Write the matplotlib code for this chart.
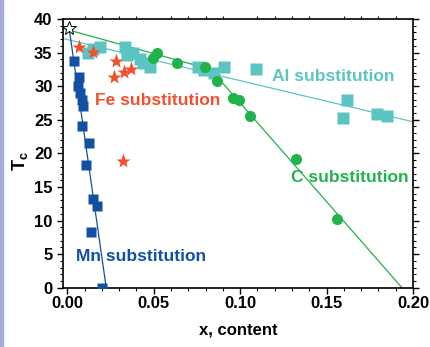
import matplotlib.pyplot as plt
from matplotlib.patches import Rectangle
from matplotlib.ticker import MultipleLocator

plt.rcParams['font.family'] = ['Liberation Sans', 'DejaVu Sans']
plt.rcParams['font.weight'] = 'bold'
plt.rcParams['mathtext.fontset'] = 'custom'
plt.rcParams['mathtext.bf'] = 'Liberation Sans:bold'
plt.rcParams['mathtext.rm'] = 'Liberation Sans:bold'

# Mn substitution
mn_x = [0.004, 0.007, 0.006, 0.0075, 0.0087, 0.009, 0.0087, 0.0127, 0.011, 0.015, 0.0173, 0.0139, 0.020]
mn_tc = [33.8, 31.3, 30.1, 29.0, 28.0, 27.0, 24.0, 21.6, 18.3, 13.2, 12.2, 8.3, 0.0]
mn_fit_x = [0.001, 0.0225]
mn_fit_tc = [38.7, 0.0]

# Al substitution
al_x = [0.0121, 0.015, 0.0191, 0.0335, 0.0347, 0.0382, 0.0422, 0.0439, 0.048,
        0.0757, 0.079, 0.085, 0.0908, 0.1092, 0.1618, 0.1595, 0.179, 0.185]
al_tc = [34.9, 35.6, 35.9, 35.8, 34.7, 35.0, 34.1, 33.5, 32.8,
         32.8, 32.4, 32.0, 32.8, 32.6, 28.0, 25.3, 25.8, 25.5]
al_fit_x = [-0.0025, 0.20]
al_fit_tc = [37.1, 24.7]

# C substitution
c_x = [0.0497, 0.052, 0.0636, 0.0798, 0.0867, 0.096, 0.0994, 0.1058, 0.1324, 0.156]
c_tc = [34.2, 35.0, 33.4, 32.9, 30.7, 28.3, 28.0, 25.5, 19.1, 10.2]
c_fit_x = [-0.0025, 0.083, 0.1936]
c_fit_tc = [38.6, 32.5, 0.0]

# Fe substitution
fe_x = [0.0069, 0.015, 0.0283, 0.0272, 0.033, 0.037, 0.0324]
fe_tc = [35.9, 35.1, 33.7, 31.4, 32.1, 32.6, 18.9]

# pure compound
pure_x = [0.0008]
pure_tc = [38.7]

blue = '#1150A2'
cyan = '#5CC5C4'
green = '#22B24C'
red = '#F0502E'

fig = plt.figure(figsize=(4.3, 3.47), dpi=100)
ax = fig.add_axes([0.1465, 0.1709, 0.814, 0.7743])

# thin lavender strip at the left edge of the figure
fig.patches.append(Rectangle((0, 0), 3 / 430, 1, transform=fig.transFigure,
                             color='#A9A9D8', zorder=0))

# fit lines
ax.plot(al_fit_x, al_fit_tc, '-', color=cyan, lw=0.9, zorder=1)
ax.plot(c_fit_x, c_fit_tc, '-', color=green, lw=0.9, zorder=1)

# data points
ax.plot(al_x, al_tc, 's', color=cyan, ms=8, mec='none', zorder=2)
ax.plot(c_x, c_tc, 'o', color=green, ms=8, mec='none', zorder=3)
ax.plot(fe_x, fe_tc, '*', color=red, ms=11, mec='none', zorder=4)
ax.plot(mn_x, mn_tc, 's', color=blue, ms=7.5, mec='none', zorder=4)
ax.plot(mn_fit_x, mn_fit_tc, '-', color=blue, lw=0.9, zorder=5)
ax.plot(pure_x, pure_tc, '*', color='white', mec='black', mew=0.7, ms=10, zorder=6)

# labels for each series
lab = dict(fontsize=12.5, va='center', fontweight='bold')
ax.text(0.0162, 27.9, 'Fe substitution', color=red, **lab)
ax.text(0.1185, 31.4, 'Al substitution', color=cyan, **lab)
ax.text(0.1295, 16.4, 'C substitution', color=green, **lab)
ax.text(0.0052, 4.6, 'Mn substitution', color=blue, **lab)

ax.set_xlim(-0.0025, 0.20)
ax.set_ylim(0, 40)
ax.xaxis.set_minor_locator(MultipleLocator(0.01))
ax.yaxis.set_major_locator(MultipleLocator(5))
ax.yaxis.set_minor_locator(MultipleLocator(1))
ax.set_xticks([0.0, 0.05, 0.10, 0.15, 0.20])
ax.set_xticklabels(['0.00', '0.05', '0.10', '0.15', '0.20'], fontweight='bold')
ax.set_yticks(range(0, 41, 5))
ax.set_yticklabels([str(v) for v in range(0, 41, 5)], fontweight='bold')

ax.tick_params(which='major', direction='out', length=4, width=1.0, labelsize=12,
               right=True, top=False)
ax.tick_params(which='minor', direction='out', length=2.5, width=0.8, right=True, top=False)
ax.tick_params(axis='x', which='minor', top=True, bottom=True)
ax.tick_params(axis='x', which='major', bottom=True, top=False, pad=2)
for spine in ax.spines.values():
    spine.set_linewidth(1.2)

ax.set_xlabel('x, content', fontsize=12, fontweight='bold', labelpad=8)
ax.set_ylabel('T$_\\mathbf{c}$', fontsize=13, fontweight='bold')
ax.yaxis.set_label_coords(-0.095, 0.47)

fig.savefig('out.png', dpi=100)
